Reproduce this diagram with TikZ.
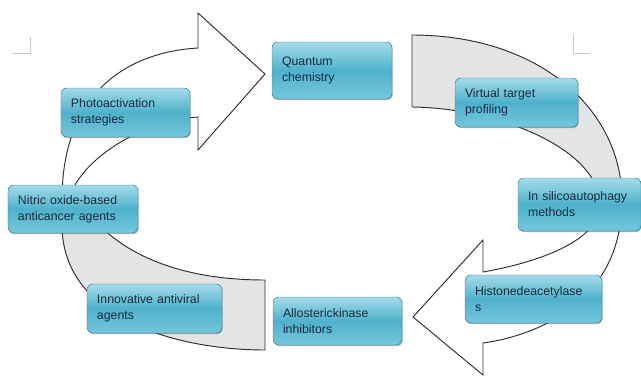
\documentclass[tikz,border=0pt]{standalone}
\usepackage{fontspec}
\setmainfont{Liberation Sans}
\usetikzlibrary{shadows}
\definecolor{boxtop}{RGB}{165,218,233}
\definecolor{boxmid}{RGB}{78,178,204}
\definecolor{boxbot}{RGB}{118,198,220}
\definecolor{boxline}{RGB}{52,128,152}
\definecolor{boxtext}{RGB}{24,42,64}
\definecolor{bandgray}{RGB}{228,228,228}
\definecolor{bandline}{RGB}{45,45,45}
\definecolor{pagemark}{RGB}{200,200,200}

% outlines of the two big circular arrows (pixel grid)
\newcommand{\leftloop}{(265,350) -- (265,280)
  .. controls (200,280) and (140,265) .. (100,226) -- (75,185)
  .. controls (95,150) and (150,120) .. (198,117)
  -- (198,150) -- (265,74) -- (198,13) -- (198,48)
  .. controls (130,52) and (62,90) .. (62,200) -- (62,225)
  .. controls (62,320) and (180,350) .. (265,350) -- cycle}
\newcommand{\rightloop}{(412,35) -- (412,107)
  .. controls (500,108) and (600,150) .. (600,205)
  .. controls (600,240) and (540,262) .. (483,272)
  -- (483,240) -- (413,317) -- (483,375) -- (483,343)
  .. controls (540,335) and (622,300) .. (622,200)
  .. controls (622,110) and (540,35) .. (412,35) -- cycle}

\begin{document}
\begin{tikzpicture}[
    x=0.03cm, y=-0.03cm,
    topic/.style={draw=boxline, rounded corners=5pt, thin,
      top color=boxtop, bottom color=boxbot, middle color=boxmid,
      drop shadow={shadow xshift=0.6pt, shadow yshift=-0.9pt, opacity=0.45, fill=black!70},
      inner xsep=0.3cm, align=left, text=boxtext,
      font=\fontsize{10.5}{13.5}\selectfont},
    band/.style={draw=bandline, line width=0.8pt},
    cornermark/.style={draw=pagemark, line width=0.8pt}
    ]
    \useasboundingbox (0,0) rectangle (641,378);

    % page corner marks
    \draw[cornermark] (12,53) -- (30,53) -- (30,37);
    \draw[cornermark] (573,35) -- (573,53) -- (590,53);

    % left arrow: grey tail, white head
    \fill[white] \leftloop;
    \begin{scope}
      \clip \leftloop;
      \fill[bandgray] (0,210) rectangle (300,378);
    \end{scope}
    \draw[band] \leftloop;

    % right arrow: grey tail, white head
    \fill[white] \rightloop;
    \begin{scope}
      \clip \rightloop;
      \fill[bandgray] (400,0) rectangle (641,205);
    \end{scope}
    \draw[band] \rightloop;

    % topics
    \node[topic, text width=3.0cm, minimum height=1.71cm] (quant) at (332,70.5) {Quantum\\chemistry};
    \node[topic, text width=3.27cm, minimum height=1.47cm] (photo) at (125.5,112.5) {Photoactivation\\strategies};
    \node[topic, text width=3.09cm, minimum height=1.47cm] (virt) at (516.5,102.5) {Virtual target\\profiling};
    \node[topic, text width=3.09cm, minimum height=1.59cm] (insil) at (579.5,204.5) {In silicoautophagy\\methods};
    \node[topic, text width=3.51cm, minimum height=1.44cm] (hist) at (533.5,299) {Histonedeacetylase\\s};
    \node[topic, text width=3.27cm, minimum height=1.44cm] (allo) at (337.5,321) {Allosterickinase\\inhibitors};
    \node[topic, text width=3.45cm, minimum height=1.47cm] (innov) at (154.5,308.5) {Innovative antiviral\\agents};
    \node[topic, text width=3.3cm, minimum height=1.44cm] (nitric) at (73,209) {Nitric oxide-based\\anticancer agents};

\end{tikzpicture}
\end{document}
